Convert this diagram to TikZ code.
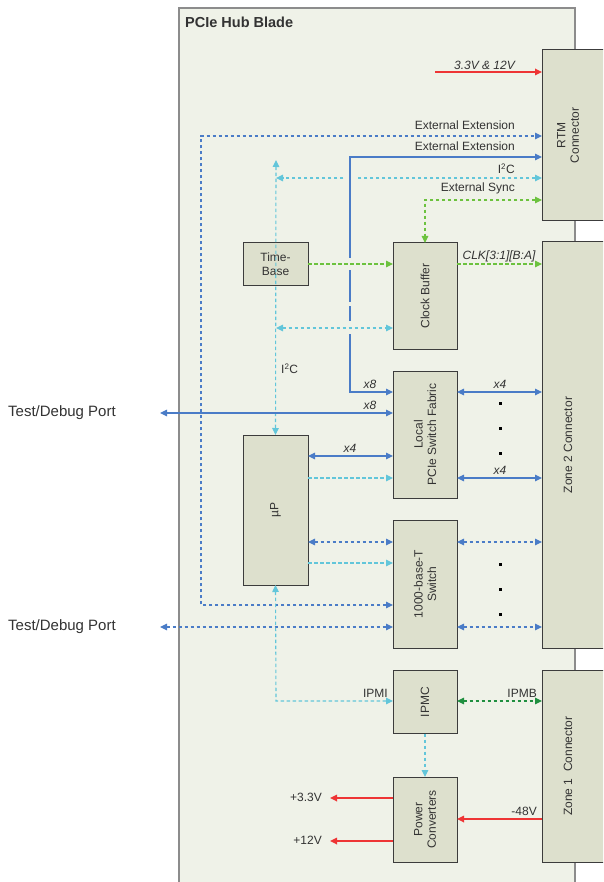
\documentclass[tikz,border=0pt]{standalone}
\usepackage{fontspec}
\setmainfont{Liberation Sans}
\usetikzlibrary{arrows.meta}
\definecolor{bladebg}{HTML}{EFF2E8}
\definecolor{bladeln}{HTML}{8C8C8C}
\definecolor{boxbg}{HTML}{DDE0CD}
\definecolor{boxln}{HTML}{3C3C3C}
\definecolor{cblue}{HTML}{4A7CC7}
\definecolor{ccyan}{HTML}{62C6DA}
\definecolor{cgreen}{HTML}{6CC23E}
\definecolor{cdgreen}{HTML}{1F8F3F}
\definecolor{cred}{HTML}{EE3535}
\definecolor{ctext}{HTML}{333333}
\tikzset{
  blk/.style={draw=boxln, fill=boxbg, line width=1pt, outer sep=0pt, inner sep=0pt},
  blktxt/.style={rotate=90, font=\fontsize{12}{13.5}\selectfont, align=center, text=ctext},
  lbl/.style={font=\fontsize{12}{13.5}\selectfont, text=ctext, inner sep=0pt},
  ilbl/.style={font=\fontsize{12}{13.5}\selectfont\itshape, text=ctext, inner sep=0pt},
  tip/.style={arrows={-Triangle[length=7pt,width=6.5pt]}},
  bip/.style={arrows={Triangle[length=7pt,width=6.5pt]-Triangle[length=7pt,width=6.5pt]}},
  dsh/.style={dash pattern=on 3.5pt off 2.5pt},
  bl/.style={draw=cblue, line width=1.1pt},
  cy/.style={draw=ccyan, line width=1.1pt, dsh},
  gr/.style={draw=cgreen, line width=1.1pt, dsh},
  dg/.style={draw=cdgreen, line width=1.1pt, dsh},
  rd/.style={draw=cred, line width=1.6pt},
  gap/.style={draw=bladebg, line width=3pt},
  dotm/.style={fill=black, minimum size=3pt, inner sep=0pt, outer sep=0pt}
}
\begin{document}
\begin{tikzpicture}[x=1pt,y=-1pt]
\clip (0,0) rectangle (603,882);
\fill[white] (0,0) rectangle (603,882);
% blade
\fill[bladebg] (179,8) rectangle (575,890);
\draw[bladeln, line width=1.2pt] (179,890) -- (179,8) -- (575,8) -- (575,890);
\node[anchor=west, font=\fontsize{14.5}{16}\selectfont\bfseries, text=ctext, inner sep=0pt] (title) at (185,22) {PCIe Hub Blade};

% blocks
\node[blk, minimum width=68pt, minimum height=171pt] (rtm) at (576,135.5) {};
\node[blk, minimum width=68pt, minimum height=406pt] (z2) at (576,445) {};
\node[blk, minimum width=68pt, minimum height=192pt] (z1) at (576,766) {};
\node[blk, minimum width=65pt, minimum height=42pt] (tb) at (275.5,264) {};
\node[blk, minimum width=64pt, minimum height=106pt] (cb) at (425,296) {};
\node[blk, minimum width=64pt, minimum height=127pt] (lpsf) at (425,434.5) {};
\node[blk, minimum width=65pt, minimum height=150pt] (up) at (275.5,510) {};
\node[blk, minimum width=64pt, minimum height=128pt] (gbe) at (425,584) {};
\node[blk, minimum width=64pt, minimum height=63pt] (ipmc) at (425,702) {};
\node[blk, minimum width=64pt, minimum height=85pt] (pc) at (425,819.5) {};

\node[blktxt] (rtmt) at (568,135.5) {RTM\\Connector};
\node[blktxt] (z2t) at (568,445) {Zone 2 Connector};
\node[blktxt] (z1t) at (568,766) {Zone 1\ \ Connector};
\node[blktxt, rotate=-90] (tbt) at (tb) {Time-\\Base};
\node[blktxt] (cbt) at (cb) {Clock Buffer};
\node[blktxt] (lpsft) at (lpsf) {Local\\PCIe Switch Fabric};
\node[blktxt] (upt) at (up) {µP};
\node[blktxt] (gbet) at (gbe) {1000-base-T\\Switch};
\node[blktxt] (ipmct) at (ipmc) {IPMC};
\node[blktxt] (pct) at (pc) {Power\\Converters};

% helper coordinates
\coordinate (y72) at (0,72);
\coordinate (y136) at (0,136);
\coordinate (y157) at (0,157);
\coordinate (y178) at (0,178);
\coordinate (y200) at (0,200);
\coordinate (y264) at (0,264);
\coordinate (y328) at (0,328);
\coordinate (y392) at (0,392);
\coordinate (y413) at (0,413);
\coordinate (y456) at (0,456);
\coordinate (y478) at (0,478);
\coordinate (y542) at (0,542);
\coordinate (y563) at (0,563);
\coordinate (y605) at (0,605);
\coordinate (y627) at (0,627);
\coordinate (y701) at (0,701);
\coordinate (y798) at (0,798);
\coordinate (y819) at (0,819);
\coordinate (y841) at (0,841);
\coordinate (pwrin) at (435,72);
\coordinate (extA) at (201,605);
\coordinate (extB) at (201,136);
\coordinate (extC) at (350,392);
\coordinate (extD) at (350,157);
\coordinate (i2cL) at (276,178);
\coordinate (i2cTop) at (276,160);
\coordinate (i2cMid) at (276,328);
\coordinate (syncC) at (425,200);
\coordinate (tdp1) at (160,413);
\coordinate (tdp2) at (160,627);
\coordinate (ipmiC) at (276,701);
\coordinate (o33) at (330,798);
\coordinate (o12) at (330,841);

% red power in
\draw[rd, tip] (pwrin) -- (rtm.west |- y72);
\node[ilbl, anchor=south east] (l33) at (515,70) {3.3V \& 12V};

% External extension dashed
\draw[bl, dsh, bip] (gbe.west |- y605) -- (extA) -- (extB) -- (rtm.west |- y136);
\node[lbl, anchor=south east] (lext1) at (515,130) {External Extension};

% I2C horizontal (cyan)
\draw[cy, bip] (rtm.west |- y178) -- (i2cL);
\draw[gap] (344,178) -- (356,178);
\node[lbl, anchor=south east] (li2c1) at (515,174) {I\textsuperscript{2}C};

% External extension solid
\draw[bl, bip] (lpsf.west |- y392) -- (extC) -- (extD) -- (rtm.west |- y157);
\draw[gap] (350,258) -- (350,270);
\draw[gap] (350,302) -- (350,306);
\draw[gap] (350,321) -- (350,334);
\node[lbl, anchor=south east] (lext2) at (515,151) {External Extension};
\node[ilbl, anchor=south] (lx8a) at (370,389) {x8};

% External sync
\draw[gr, bip] (rtm.west |- y200) -- (syncC) -- (cb.north);
\node[lbl, anchor=south east] (lsync) at (515,194) {External Sync};

% time base -> clock buffer
\draw[gr, tip] (tb.east) -- (cb.west |- y264);
% clk out
\draw[gr, tip] (cb.east |- y264) -- (z2.west |- y264);
\node[ilbl, anchor=south] (lclk) at (499,262) {CLK[3:1][B:A]};

% I2C vertical
\draw[cy, bip] (i2cTop) -- (up.north);
\draw[cy, bip] (i2cMid) -- (cb.west |- y328);
\node[lbl, anchor=west] (li2c2) at (281,369) {I\textsuperscript{2}C};

% Test/Debug ports
\draw[bl, bip] (tdp1) -- (lpsf.west |- y413);
\node[ilbl, anchor=south] (lx8b) at (370,410) {x8};
\node[lbl, anchor=west, font=\fontsize{15}{17}\selectfont] (ltdp1) at (8,413) {Test/Debug Port};
\draw[bl, dsh, bip] (tdp2) -- (gbe.west |- y627);
\node[lbl, anchor=west, font=\fontsize{15}{17}\selectfont] (ltdp2) at (8,627) {Test/Debug Port};

% Local PCIe <-> zone 2
\draw[bl, bip] (lpsf.east |- y392) -- (z2.west |- y392);
\node[ilbl, anchor=south] (lx4a) at (500,389) {x4};
\draw[bl, bip] (lpsf.east |- y478) -- (z2.west |- y478);
\node[ilbl, anchor=south] (lx4b) at (500,475) {x4};
\node[dotm] (d1) at (500,403) {};
\node[dotm] (d2) at (500,428) {};
\node[dotm] (d3) at (500,453) {};

% uP <-> local
\draw[bl, bip] (up.east |- y456) -- (lpsf.west |- y456);
\node[ilbl, anchor=south] (lx4c) at (350,453) {x4};
\draw[cy, tip] (up.east |- y478) -- (lpsf.west |- y478);

% uP <-> 1000-base-T
\draw[bl, dsh, bip] (up.east |- y542) -- (gbe.west |- y542);
\draw[cy, tip] (up.east |- y563) -- (gbe.west |- y563);

% 1000-base-T <-> zone 2
\draw[bl, dsh, bip] (gbe.east |- y542) -- (z2.west |- y542);
\draw[bl, dsh, bip] (gbe.east |- y627) -- (z2.west |- y627);
\node[dotm] (d4) at (500,564) {};
\node[dotm] (d5) at (500,589) {};
\node[dotm] (d6) at (500,614) {};

% IPMI
\draw[cy, bip] (up.south) -- (ipmiC) -- (ipmc.west |- y701);
\node[lbl, anchor=south east] (lipmi) at (388,698) {IPMI};
% IPMB
\draw[dg, bip] (ipmc.east |- y701) -- (z1.west |- y701);
\node[lbl, anchor=south east] (lipmb) at (537,698) {IPMB};
% IPMC -> power converters
\draw[cy, tip] (ipmc.south) -- (pc.north);

% power
\draw[rd, tip] (pc.west |- y798) -- (o33);
\node[lbl, anchor=east] (l33v) at (322,797) {+3.3V};
\draw[rd, tip] (pc.west |- y841) -- (o12);
\node[lbl, anchor=east] (l12v) at (322,840) {+12V};
\draw[rd, tip] (z1.west |- y819) -- (pc.east |- y819);
\node[lbl, anchor=south east] (l48) at (537,816) {-48V};
\end{tikzpicture}
\end{document}
